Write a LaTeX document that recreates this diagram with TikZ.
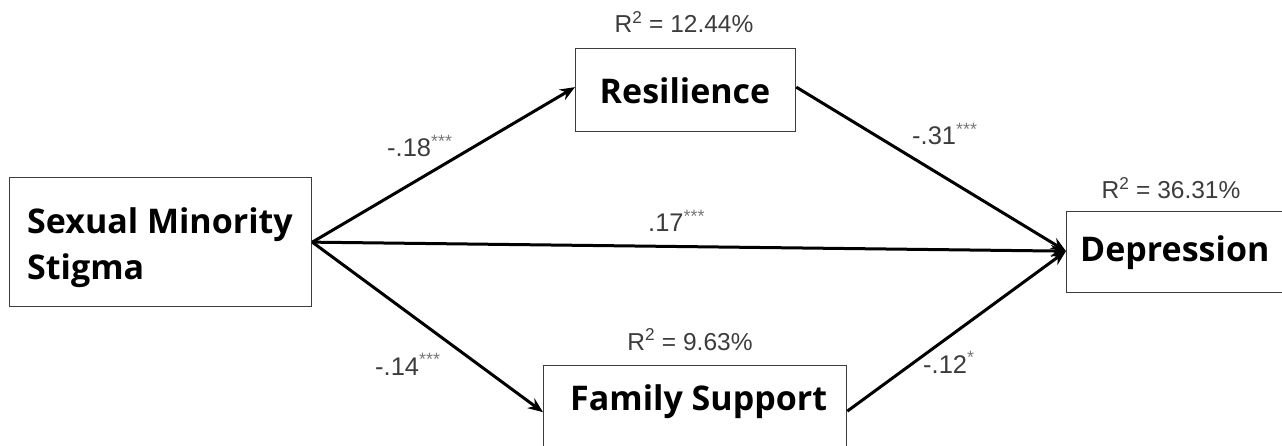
\documentclass[tikz,border=0pt]{standalone}
\usepackage{fontspec}
\setmainfont{Liberation Sans}
\newfontfamily\boxfont{Open Sans}
\usetikzlibrary{arrows.meta}
\definecolor{labelgray}{RGB}{60,60,60}
\definecolor{stargray}{RGB}{120,120,120}
\definecolor{boxedge}{RGB}{60,60,60}
\tikzset{
  varbox/.style={draw=boxedge, line width=1.3pt, inner sep=0pt},
  boxtext/.style={anchor=base west, inner sep=0pt, text=black, align=left, font=\boxfont\bfseries\fontsize{34}{46}\selectfont},
  path/.style={line width=3pt, -{Stealth[length=15pt,width=12pt]}},
  coef/.style={anchor=base west, text=labelgray, font=\fontsize{25.5}{28}\selectfont, inner sep=0pt},
  rsq/.style={anchor=base, text=labelgray, font=\fontsize{24.5}{28}\selectfont, inner sep=0pt}
}
\newcommand{\st}[1]{\textsuperscript{\textcolor{stargray}{#1}}}
\begin{document}
\begin{tikzpicture}[x=1pt,y=-1pt]
\useasboundingbox (0,0) rectangle (1282,446);
% boxes
\node[varbox, minimum width=302pt, minimum height=129pt, anchor=north west] (sms) at (9,177) {};
\node[boxtext, anchor=north west] (smst) at (27,207) {Sexual Minority\\Stigma};
\node[varbox, minimum width=220pt, minimum height=83pt, anchor=north west] (res) at (575,48) {};
\node[boxtext, anchor=base] (rest) at (685,104) {Resilience};
\node[varbox, minimum width=303pt, minimum height=85pt, anchor=north west] (fs) at (543,365) {};
\node[boxtext] (fst) at (570,410) {Family Support};
\node[varbox, minimum width=240pt, minimum height=81pt, anchor=north west] (dep) at (1066,211) {};
\node[boxtext] (dept) at (1080,262) {Depression};
% R squared
\node[rsq] (r1) at (684,33) {R\textsuperscript{2} = 12.44\%};
\node[rsq] (r2) at (690,350) {R\textsuperscript{2} = 9.63\%};
\node[rsq] (r3) at (1171,199) {R\textsuperscript{2} = 36.31\%};
% paths
\draw[path] (sms.east) -- ([yshift=3pt]res.west);
\draw[path] (sms.east) -- ([yshift=-4pt]fs.west);
\draw[path] (sms.east) -- ([yshift=1pt]dep.west);
\draw[path] ([yshift=3pt]res.east) -- ([yshift=1pt]dep.west);
\draw[path] ([yshift=-3pt]fs.east) -- ([yshift=1pt]dep.west);
% coefficients
\node[coef] (c1) at (387,157) {-.18\st{***}};
\node[coef] (c2) at (912,145) {-.31\st{***}};
\node[coef] (c3) at (648,232) {.17\st{***}};
\node[coef] (c4) at (375,375) {-.14\st{***}};
\node[coef] (c5) at (923,373) {-.12\st{*}};
\end{tikzpicture}
\end{document}
